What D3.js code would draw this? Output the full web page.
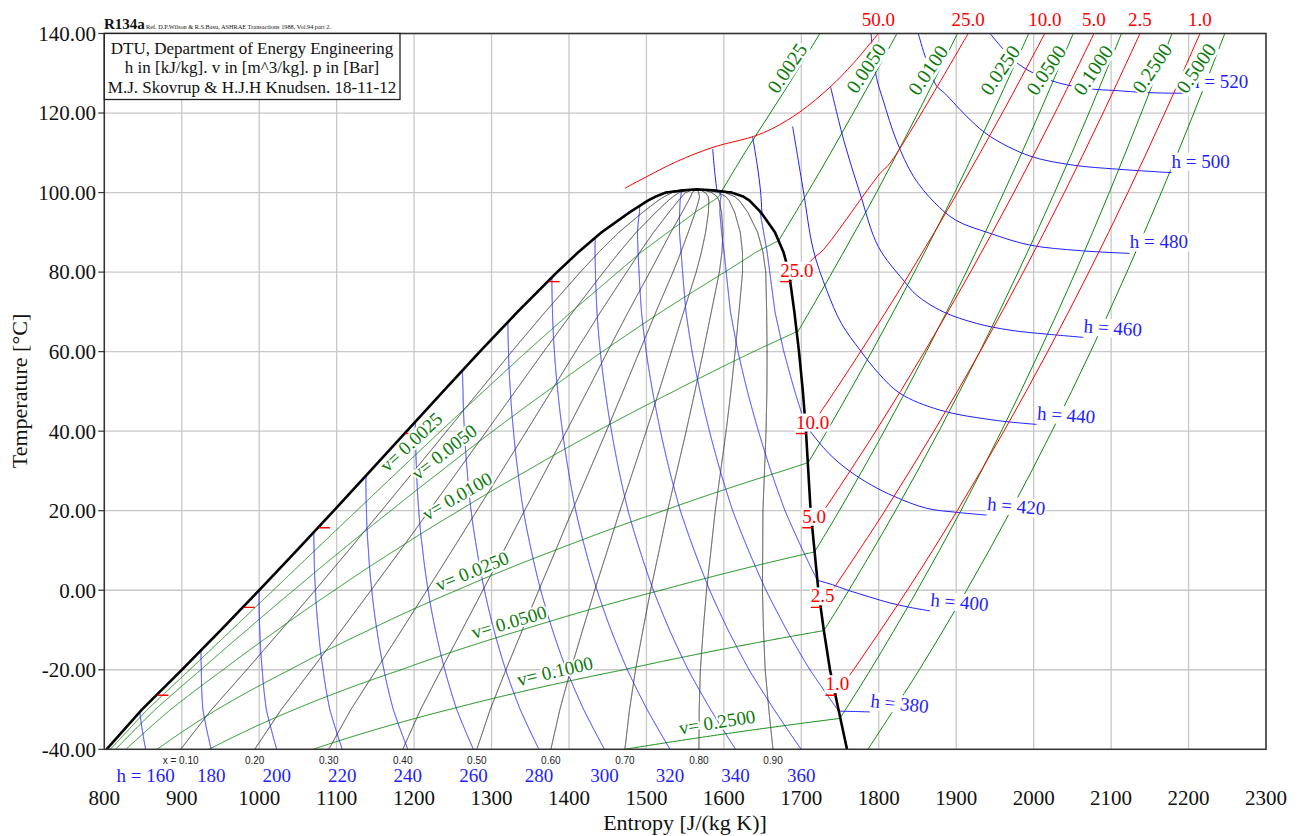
<!DOCTYPE html>
<html><head><meta charset="utf-8">
<script src="https://cdn.jsdelivr.net/npm/d3@7/dist/d3.min.js"></script>
<style>
body{margin:0;background:#fff;}
svg text{font-family:"Liberation Serif","Times New Roman",Times,serif;}
</style></head><body>
<svg id="chart" width="1299" height="836"></svg>
<script>
// ---------------- DATA ----------------
// saturation table of R134a: T [°C], s [J/(kg K)], h [kJ/kg], v [m^3/kg]
const satT  = [-40,-30,-20,-10,0,10,20,30,40,50,60,70,80,85,90,95,98,99,100,100.6,100.8];
const satSl = [803,848.6,900.2,950.6,1000,1048.5,1096.3,1143.5,1190.5,1237.5,1284.9,1333.6,1384.7,1412,1442,1478,1502,1512,1525,1548,1565];
const satSv = [1759,1748,1737,1729,1722,1717,1712,1709,1706,1702,1697,1691,1684,1677,1666,1648,1633,1625,1610,1585,1565];
const satHl = [148.1,160.8,173.6,186.7,200,213.6,227.5,241.7,256.4,271.6,287.5,304.3,322.4,332.2,342.9,355,364,367.5,372,380,389.6];
const satHv = [374,380.3,386.6,392.7,398.6,404.3,409.8,414.8,419.4,423.4,426.6,428.7,428.8,427.6,425.4,420.5,414.5,411,406,398,389.6];
const satVl = [0.000705,0.000722,0.000739,0.000755,0.000773,0.000794,0.000817,0.000843,0.000873,0.000908,0.000951,0.001004,0.00108,0.00113,0.0012,0.00131,0.00141,0.00146,0.00153,0.0017,0.001953];
const satVv = [0.3569,0.2259,0.1464,0.0994,0.0693,0.0494,0.0358,0.0265,0.02,0.0151,0.0115,0.0087,0.0065,0.0056,0.0046,0.0037,0.0031,0.0029,0.0027,0.0023,0.001953];

const sTicks = [800,900,1000,1100,1200,1300,1400,1500,1600,1700,1800,1900,2000,2100,2200,2300];
const tTicks = [-40,-20,0,20,40,60,80,100,120,140];

const qualities = [0.1,0.2,0.3,0.4,0.5,0.6,0.7,0.8,0.9];
const qualityLabels = ["x = 0.10","0.20","0.30","0.40","0.50","0.60","0.70","0.80","0.90"];

const hTwoPhase = [160,180,200,220,240,260,280,300,320,340,360,380,400,420];
const hBottomValues = [160,180,200,220,240,260,280,300,320,340,360];
const hBottomLabels = ["h = 160","180","200","220","240","260","280","300","320","340","360"];

const vValues = [0.0025,0.005,0.01,0.025,0.05,0.1,0.25];
const vTwoPhaseLabels = ["v= 0.0025","v= 0.0050","v= 0.0100","v= 0.0250","v= 0.0500","v= 0.1000","v= 0.2500"];
const vTopLabels = ["0.0025","0.0050","0.0100","0.0250","0.0500","0.1000","0.2500","0.5000"];

// superheated isochores [s, T]
const vSup0025 = [[1597,100.3],[1627,110],[1660,120],[1692.6,130],[1724,140]];
const vSup0050 = [[1671,88],[1708,100],[1738,110],[1767,120],[1795.7,130],[1823.5,140]];
const vSup0100 = [[1694,64.5],[1740,80],[1797,100],[1850.5,120],[1901.6,140]];
const vSup0250 = [[1708.5,32],[1733,40],[1791,60],[1846,80],[1898,100],[1947,120],[1993.7,140]];
const vSup0500 = [[1717,9.6],[1749,20],[1807,40],[1861.5,60],[1913,80],[1961.4,100],[2007.4,120],[2051.1,140]];
const vSup1000 = [[1729,-10.2],[1761.4,0],[1821.5,20],[1877.7,40],[1930.4,60],[1980,80],[2027,100],[2071.3,120],[2113.4,140]];
const vSup2500 = [[1750,-32.2],[1789.3,-20],[1849.7,0],[1906,20],[1958.3,40],[2007.5,60],[2054,80],[2097.6,100],[2139,120],[2178.6,140]];
const vSup5000 = [[1786,-40],[1852.3,-20],[1913.5,0],[1970.4,20],[2023.6,40],[2073.5,60],[2120.4,80],[2164.8,100],[2206.8,120],[2246.8,140]];

// isobars [s, T]; pressures in bar
const pressures = [1.0,2.5,5.0,10.0,25.0,50.0];
const pressureLabels = ["1.0","2.5","5.0","10.0","25.0","50.0"];
const pressureSatT = [-26.4,-4.3,15.7,39.4,77.6];
const pSup1  = [[1744,-26.4],[1767.4,-20],[1836.8,0],[1901.3,20],[1961.6,40],[2018.1,60],[2071.3,80],[2121.6,100],[2169.3,120],[2214.7,140]];
const pSup2_5= [[1725,-4.3],[1740.2,0],[1808,20],[1871.3,40],[1930.8,60],[1986.7,80],[2039.6,100],[2089.6,120],[2137.3,140]];
const pSup5  = [[1714,15.7],[1729,20],[1796.1,40],[1859.1,60],[1918.4,80],[1974.4,100],[2027.5,120],[2077.9,140]];
const pSup10 = [[1706,39.4],[1728.4,45.8],[1742.9,50],[1776.5,60],[1841,80],[1901.8,100],[1959.5,120],[2014.4,140]];
const pSup25 = [[1686,77.6],[1717.6,83.8],[1728.3,85.6],[1801.6,104.8],[1814.5,107.4],[1915.4,140]];
const pSup50 = [[1472.3,101.1],[1500.3,104],[1539.1,107.8],[1586.3,111.4],[1638,114.1],[1663.8,116.2],[1698.3,120.3],[1737,126.5],[1767.1,132.5],[1799.4,140]];

// isenthalps outside the two-phase region [s, T]
const hTop400 = [[1585.6,110.9],[1588,105.5],[1591,100.45]];
const hTop420 = [[1637,114.1],[1643,107],[1647.5,100],[1649,95.1]];
const hSup380 = [[1748.5,-30.4],[1770,-30.5],[1788.6,-30.6]];
const hSup400 = [[1720.5,2.5],[1740,1.4],[1758.6,0.1],[1790,-1.8],[1814.5,-3.2],[1840,-4.3],[1866,-5.2]];
const hSup420 = [[1706,41.3],[1735,34.5],[1762,30],[1790,26.5],[1821,23.5],[1862,20.6],[1900,19.6],[1939.3,18.9]];
const hSup440 = [[1688.8,116.6],[1702.5,100.6],[1715.5,85.6],[1732.7,75.5],[1752,67],[1775.8,60.4],[1800,54.5],[1827.4,49.5],[1879,45.3],[1947.8,42.8],[2003.9,41.7]];
const hSup460 = [[1737.9,126.5],[1755,113],[1775.8,99.8],[1799.4,86.4],[1831.6,78],[1848.9,74.2],[1883.3,70],[1926.4,67.1],[1969.4,65.4],[2016.8,64.4],[2064.1,63.6]];
const hSup480 = [[1790,140],[1797,129],[1806,123],[1823,113],[1845,104],[1872,97.5],[1900,93],[1943,89.8],[1995,86.8],[2060,85.4],[2124,84.7]];
const hSup500 = [[1851,140],[1874,127],[1885,125],[1918,118.3],[1944,114.1],[1995,109.2],[2051,106.9],[2107,105.9],[2178,105]];
const hSup520 = [[1943.6,140],[1980.5,132.3],[2022,128.2],[2068,126.2],[2110,125.6],[2140,125.2],[2176,125],[2202,125]];
const hSupLabels = ["h = 380","h = 400","h = 420","h = 440","h = 460","h = 480","h = 500","h = 520"];

// label anchor points in data units [s, T]
const vTwoPhaseLabelAt = [[1196,37.3],[1238.6,34.8],[1255.4,23.7],[1274.8,4.85],[1322.5,-7.98],[1381.9,-20.3],[1591.1,-33.1]];
const vTopLabelAt = [[1681.5,131.3],[1783.5,131.3],[1863.5,130.8],[1956.5,130.8],[2015.9,130.8],[2076.6,130.8],[2152.8,131.3],[2209.6,131.3]];

// ---------------- LAYOUT / STYLE ----------------
const vTwoPhaseRot = [-43,-38,-30,-22,-16,-13,-9];
const hSupRot = [6,5,5,4,4,0,0,0];
const BLUE="#1e1eff", RED="#ff0000", GREEN="#0b8a0b", GREENTXT="#0a7a0a";

const svg = d3.select('#chart');
const x = d3.scaleLinear().domain([800,2300]).range([104.3,1266]);
const y = d3.scaleLinear().domain([-40,140]).range([749.3,33.5]);
const X0=x(800), X1=x(2300), Y0=y(140), Y1=y(-40);

// grid
const grid = svg.append('g');
grid.selectAll('line.gv').data(sTicks).join('line').attr('class','gv')
  .attr('x1',d=>x(d)).attr('x2',d=>x(d)).attr('y1',Y0).attr('y2',Y1)
  .attr('stroke','#c8c8c8').attr('stroke-width',1.3);
grid.selectAll('line.gh').data(tTicks).join('line').attr('class','gh')
  .attr('x1',X0).attr('x2',X1).attr('y1',d=>y(d)).attr('y2',d=>y(d))
  .attr('stroke','#c8c8c8').attr('stroke-width',1.3);

svg.append('clipPath').attr('id','clip').append('rect')
  .attr('x',X0).attr('y',Y0).attr('width',X1-X0).attr('height',Y1-Y0);
const plot = svg.append('g').attr('clip-path','url(#clip)');

// interpolation in the saturation table
function interpAt(T, arr, useLog){
  let i = d3.bisectRight(satT, T) - 1;
  i = Math.max(0, Math.min(satT.length-2, i));
  const t = (T - satT[i])/(satT[i+1]-satT[i]);
  if (useLog) return Math.exp(Math.log(arr[i]) + t*(Math.log(arr[i+1])-Math.log(arr[i])));
  return arr[i] + t*(arr[i+1]-arr[i]);
}
const Tc = satT[satT.length-1];
const fineT = d3.range(-40, Tc, 0.05).concat([Tc]);
const sat = fineT.map(T => ({T, sl:interpAt(T,satSl), sv:interpAt(T,satSv), hl:interpAt(T,satHl), hv:interpAt(T,satHv), vl:interpAt(T,satVl), vv:interpAt(T,satVv,true)}));

const lineLin = d3.line().x(d=>x(d[0])).y(d=>y(d[1]));
const lineSm = d3.line().x(d=>x(d[0])).y(d=>y(d[1])).curve(d3.curveCatmullRom.alpha(0.5));
function draw(g, pts, color, w, smooth){
  g.append('path').attr('d', (smooth?lineSm:lineLin)(pts)).attr('fill','none')
   .attr('stroke',color).attr('stroke-width',w);
}

// quality lines
const qLines = qualities.map(q => sat.map(p => [p.sl + q*(p.sv-p.sl), p.T]));
qLines.forEach(pts => draw(plot, pts, '#222', 0.9, false));

// isochores
const vTwo = vValues.map(v => sat.filter(p => p.vv>p.vl && v>=p.vl && v<=p.vv)
   .map(p => [p.sl + (v-p.vl)/(p.vv-p.vl)*(p.sv-p.sl), p.T]));
vTwo.forEach(pts => draw(plot, pts, GREEN, 1, false));
const vSup = [vSup0025,vSup0050,vSup0100,vSup0250,vSup0500,vSup1000,vSup2500,vSup5000];
vSup.forEach(pts => draw(plot, pts, GREEN, 1, true));

// isenthalps
const hTwo = hTwoPhase.map(h => sat.filter(p => p.hv>p.hl && h>=p.hl && h<=p.hv)
   .map(p => [p.sl + (h-p.hl)/(p.hv-p.hl)*(p.sv-p.sl), p.T]));
hTwo.forEach(pts => draw(plot, pts, BLUE, 1, false));
const hSup = [hSup380,hSup400,hSup420,hSup440,hSup460,hSup480,hSup500,hSup520];
[hTop400,hTop420].concat(hSup).forEach(pts => draw(plot, pts, BLUE, 1, true));

// isobars
const pSup = [pSup1,pSup2_5,pSup5,pSup10,pSup25,pSup50];
pSup.forEach(pts => draw(plot, pts, RED, 1, true));

// saturation dome
const dome = sat.map(p=>[p.sl,p.T]).concat(sat.slice().reverse().map(p=>[p.sv,p.T]));
draw(plot, dome, '#000', 2.6, false);

// red saturation-pressure ticks
pressureSatT.forEach(T => {
  const xl = x(interpAt(T,satSl)), xv = x(interpAt(T,satSv)), yy = y(T);
  plot.append('line').attr('x1',xl+1).attr('x2',xl+12).attr('y1',yy).attr('y2',yy).attr('stroke',RED).attr('stroke-width',1.4);
  plot.append('line').attr('x1',xv-10).attr('x2',xv).attr('y1',yy).attr('y2',yy).attr('stroke',RED).attr('stroke-width',1.4);
});

// ---------- labels ----------
const lab = svg.append('g');
function bgLabel(txt, tx, ty, rot, opt){
  const g = lab.append('g').attr('transform',`translate(${tx},${ty}) rotate(${rot})`);
  const t = g.append('text').text(txt).attr('text-anchor',opt.anchor||'middle')
     .attr('font-size',opt.size).attr('fill',opt.color);
  if (opt.central) t.attr('dy','0.35em');
  if (opt.halo) t.attr('stroke','#fff').attr('stroke-width',opt.halo).attr('paint-order','stroke').attr('stroke-linejoin','round');
  if (opt.bg){
    const b = t.node().getBBox();
    g.insert('rect','text').attr('x',b.x-1).attr('y',b.y+2).attr('width',b.width+2).attr('height',b.height-3).attr('fill','#fff');
  }
  return g;
}

// two-phase v labels
vTwoPhaseLabels.forEach((t,i)=>{
  const a = vTwoPhaseLabelAt[i];
  bgLabel(t, x(a[0]), y(a[1]), vTwoPhaseRot[i], {size:19, color:GREENTXT, central:true, halo:4});
});

// isobar labels at vapour line
pressureSatT.forEach((T,i)=>{
  const xv = x(interpAt(T,satSv));
  bgLabel(pressureLabels[i], xv-10, y(T)-5, 0, {size:19, color:RED, anchor:'start', bg:true});
});

// isenthalp labels at line ends
hSup.forEach((pts,i)=>{
  const e = pts[pts.length-1];
  bgLabel(hSupLabels[i], x(e[0]), y(e[1])-5, hSupRot[i], {size:19, color:BLUE, anchor:'start', bg:true});
});

// top isochore labels
vTopLabels.forEach((t,i)=>{
  const a = vTopLabelAt[i];
  bgLabel(t, x(a[0]), y(a[1]), -56, {size:20, color:GREENTXT, central:true, bg:true});
});

// top isobar labels
pSup.forEach((pts,i)=>{
  const e = pts[pts.length-1];
  svg.append('text').text(pressureLabels[i]).attr('x',x(e[0])).attr('y',26)
    .attr('text-anchor','middle').attr('font-size',19).attr('fill',RED);
});

// frame
svg.append('rect').attr('x',X0).attr('y',Y0).attr('width',X1-X0).attr('height',Y1-Y0)
  .attr('fill','none').attr('stroke','#333').attr('stroke-width',1.5);
svg.selectAll('line.yt').data(tTicks).join('line').attr('class','yt')
  .attr('x1',X0-6).attr('x2',X0).attr('y1',d=>y(d)).attr('y2',d=>y(d)).attr('stroke','#333').attr('stroke-width',1.2);

// axis labels
const fmt = d3.format('.2f');
svg.selectAll('text.yl').data(tTicks).join('text').attr('class','yl')
  .attr('x',96).attr('y',d=>y(d)).attr('dy','0.35em').attr('text-anchor','end')
  .attr('font-size',21).attr('fill','#111').text(d=>fmt(d).replace('\u2212','-'));
svg.selectAll('text.xl').data(sTicks).join('text').attr('class','xl')
  .attr('x',d=>x(d)).attr('y',805).attr('text-anchor','middle')
  .attr('font-size',21).attr('fill','#111').text(d=>d);

// quality labels at bottom
qualities.forEach((q,i)=>{
  const sBot = sat[0].sl + q*(sat[0].sv-sat[0].sl);
  svg.append('text').text(qualityLabels[i]).attr('x',x(sBot)).attr('y',764)
    .attr('text-anchor','middle').attr('font-size',10).attr('fill','#222')
    .style('font-family','"Liberation Sans",Arial,sans-serif');
});
// h labels at bottom
hBottomValues.forEach((h,i)=>{
  const pts = hTwo[hTwoPhase.indexOf(h)];
  svg.append('text').text(hBottomLabels[i]).attr('x',x(pts[0][0])).attr('y',782)
    .attr('text-anchor','middle').attr('font-size',19).attr('fill',BLUE);
});

svg.append('text').text('Entropy [J/(kg K)]').attr('x',685).attr('y',830)
  .attr('text-anchor','middle').attr('font-size',22).attr('fill','#111');
svg.append('text').text('Temperature [°C]').attr('transform','translate(19,391) rotate(-90)')
  .attr('dy','0.35em').attr('text-anchor','middle').attr('font-size',22).attr('fill','#111');

// header
svg.append('text').attr('x',104).attr('y',29).attr('font-size',15).attr('font-weight','bold').attr('fill','#111').text('R134a');
svg.append('text').attr('x',146).attr('y',29).attr('font-size',6.3).attr('fill','#111')
  .text('Ref. D.P.Wilson & R.S.Basu, ASHRAE Transactions 1988, Vol.94 part 2.');
svg.append('rect').attr('x',X0).attr('y',Y0).attr('width',400-X0).attr('height',66)
  .attr('fill','#fff').attr('stroke','#222').attr('stroke-width',1.3);
['DTU, Department of Energy Engineering','h in [kJ/kg]. v in [m^3/kg]. p in [Bar]','M.J. Skovrup & H.J.H Knudsen. 18-11-12']
  .forEach((t,i)=> svg.append('text').text(t).attr('x',252).attr('y',54+i*19.3)
     .attr('text-anchor','middle').attr('font-size',17).attr('fill','#111'));
</script></body></html>
